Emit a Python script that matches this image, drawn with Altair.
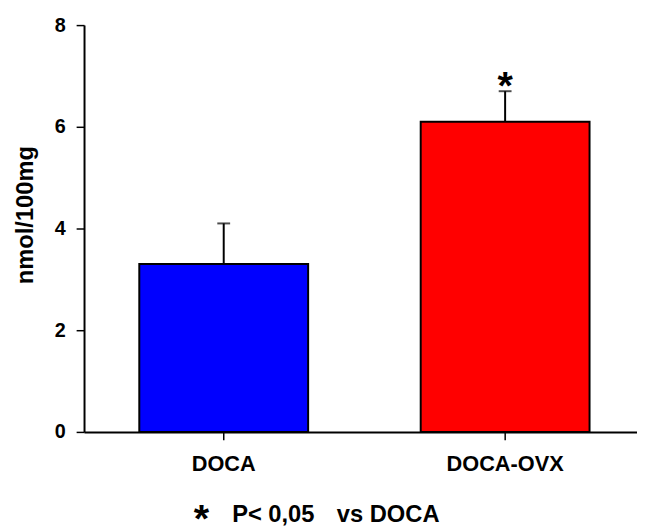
import altair as alt
import pandas as pd

groups = ["DOCA", "DOCA-OVX"]
means = [3.3, 6.1]
errors = [0.8, 0.6]
colors = ["#0000ff", "#ff0000"]
marks = ["", "*"]

df = pd.DataFrame({
    "group": groups,
    "mean": means,
    "err": errors,
    "color": colors,
    "mark": marks,
})
df["top"] = df["mean"] + df["err"]

FONT = "Liberation Sans"

xenc = alt.X("group:N", sort=groups, title=None,
             scale=alt.Scale(paddingInner=0.4, paddingOuter=0.1825, align=0.538),
             axis=alt.Axis(labelAngle=0, labelFont=FONT, labelFontSize=22, labelFontWeight="bold",
                           labelColor="black", labelPadding=14, tickSize=8, tickColor="black",
                           tickWidth=1.5, domainColor="black", domainWidth=2, grid=False))
yscale = alt.Scale(domain=[0, 8], nice=False)
yaxis = alt.Axis(values=[0, 2, 4, 6, 8], format="d", title="nmol/100mg", titleFont=FONT,
                 titleFontSize=24, titleFontWeight="bold", titleColor="black",
                 titleX=-52, titleY=192, titleBaseline="alphabetic", titleAngle=270,
                 titleAlign="center",
                 labelFont=FONT, labelFontSize=20, labelFontWeight="bold", labelColor="black",
                 labelPadding=11, tickSize=8, tickColor="black", tickWidth=1.5,
                 domainColor="black", domainWidth=2, grid=False)

base = alt.Chart(df)

bars = base.mark_bar(stroke="black", strokeWidth=2).encode(
    x=xenc,
    y=alt.Y("mean:Q", scale=yscale, axis=yaxis),
    color=alt.Color("color:N", scale=None),
)

err = base.mark_rule(color="black", strokeWidth=2).encode(
    x="group:N", y="mean:Q", y2="top:Q")
caps = base.mark_tick(color="black", thickness=2, size=13, orient="horizontal").encode(
    x="group:N", y="top:Q")
star = base.mark_text(font=FONT, fontSize=40, fontWeight="bold", dy=8, baseline="alphabetic",
                      color="black").encode(
    x="group:N", y="top:Q", text="mark:N")

note_star = alt.Chart(pd.DataFrame({"t": ["*"]})).mark_text(
    font=FONT, fontSize=40, fontWeight="bold", align="left", baseline="alphabetic", color="black"
).encode(x=alt.value(111), y=alt.value(513), text="t:N")
note1 = alt.Chart(pd.DataFrame({"t": ["P< 0,05"]})).mark_text(
    font=FONT, fontSize=24, fontWeight="bold", align="left", baseline="alphabetic", color="black"
).encode(x=alt.value(150), y=alt.value(503), text="t:N")
note2 = alt.Chart(pd.DataFrame({"t": ["vs DOCA"]})).mark_text(
    font=FONT, fontSize=24, fontWeight="bold", align="left", baseline="alphabetic", color="black"
).encode(x=alt.value(256), y=alt.value(503), text="t:N")

chart = alt.layer(bars, err, caps, star, note_star, note1, note2).properties(
    width=560, height=412,
    background="white",
    autosize=alt.AutoSizeParams(type="none"),
    padding={"left": 77, "top": 14, "right": 0, "bottom": 95},
).configure_view(stroke=None)

chart.save("out.html", embed_options={"renderer": "svg", "actions": False})
